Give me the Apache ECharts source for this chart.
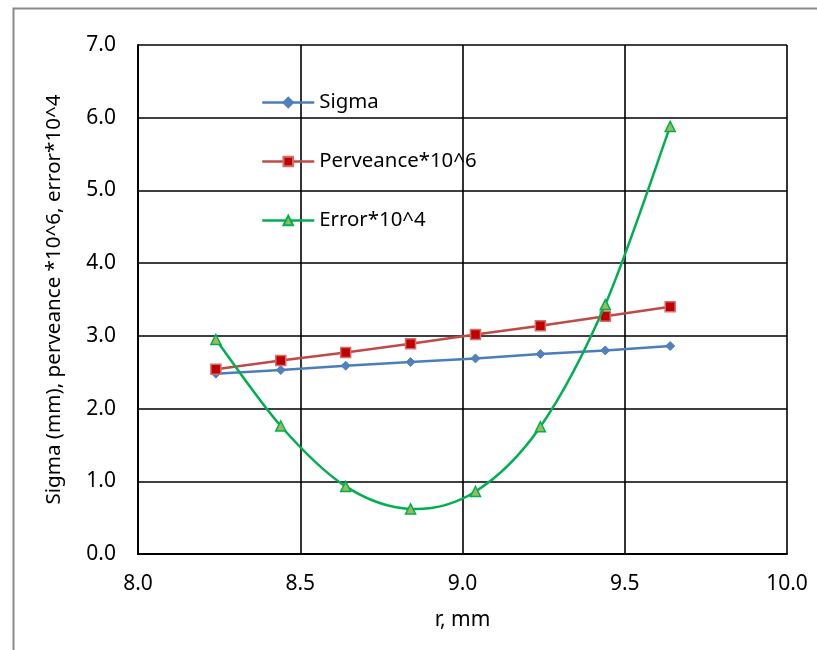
<!DOCTYPE html>
<html>
<head>
<meta charset="utf-8">
<script src="https://cdn.jsdelivr.net/npm/echarts@6/dist/echarts.min.js"></script>
<style>
  html, body { margin: 0; padding: 0; background: #fff; }
  #chart { width: 817px; height: 650px; }
</style>
</head>
<body>
<div id="chart"></div>
<script>
// Beam radius r (mm) against sigma, perveance and fitting error
const radius = [8.24, 8.44, 8.64, 8.84, 9.04, 9.24, 9.44, 9.64];
const sigma = [2.48, 2.53, 2.59, 2.64, 2.69, 2.75, 2.80, 2.86];
const perveance = [2.54, 2.66, 2.77, 2.89, 3.02, 3.14, 3.27, 3.40];
const error = [2.95, 1.76, 0.93, 0.62, 0.86, 1.75, 3.43, 5.88];

const seriesNames = ['Sigma', 'Perveance*10^6', 'Error*10^4'];
const xTitle = 'r, mm';
const yTitle = 'Sigma (mm), perveance *10^6, error*10^4';

const FONT = 'Noto Sans';
const BLUE = '#4A7EBB';
const RED = '#BE4B48';
const GREEN = '#00B050';

function pairs(ys) {
  return radius.map((x, i) => [x, ys[i]]);
}

// Smooth curve through the error points: Catmull-Rom segments as cubic Beziers,
// computed in pixel space from the axis coordinates.
function renderErrorCurve(params, api) {
  if (params.dataIndex !== 0) return null;
  const pts = radius.map((x, i) => api.coord([x, error[i]]));
  const n = pts.length;
  const P = i => pts[Math.max(0, Math.min(n - 1, i))];
  let d = 'M' + pts[0][0] + ' ' + pts[0][1];
  for (let i = 0; i < n - 1; i++) {
    const p0 = P(i - 1), p1 = P(i), p2 = P(i + 1), p3 = P(i + 2);
    const c1x = p1[0] + (p2[0] - p0[0]) / 6;
    const c1y = p1[1] + (p2[1] - p0[1]) / 6;
    const c2x = p2[0] - (p3[0] - p1[0]) / 6;
    const c2y = p2[1] - (p3[1] - p1[1]) / 6;
    d += ' C' + c1x + ' ' + c1y + ' ' + c2x + ' ' + c2y + ' ' + p2[0] + ' ' + p2[1];
  }
  return {
    type: 'path',
    shape: { pathData: d },
    style: { fill: 'none', stroke: GREEN, lineWidth: 2.5, lineJoin: 'round' }
  };
}

const chart = echarts.init(document.getElementById('chart'), null, { renderer: 'canvas' });

chart.setOption({
  backgroundColor: '#ffffff',
  animation: false,
  graphic: [{
    type: 'rect',
    left: 11, top: 6,
    shape: { width: 1000, height: 1000 },
    style: { fill: 'none', stroke: '#8a8a8a', lineWidth: 2 },
    silent: true
  }],
  grid: { left: 138, top: 45, right: 30, bottom: 96 },
  legend: {
    orient: 'vertical',
    left: 256,
    top: 87,
    itemWidth: 52,
    itemHeight: 12,
    itemGap: 38,
    textStyle: { fontFamily: FONT, fontSize: 20.4, color: '#000', lineHeight: 21 },
    data: [
      { name: seriesNames[0], lineStyle: { color: BLUE, width: 2.5 } },
      { name: seriesNames[1], lineStyle: { color: RED, width: 2.5 } },
      { name: seriesNames[2], lineStyle: { color: GREEN, width: 2.5, opacity: 1 } }
    ]
  },
  xAxis: {
    type: 'value',
    min: 8, max: 10, interval: 0.5,
    name: xTitle,
    nameLocation: 'middle',
    nameGap: 56,
    nameTextStyle: { fontFamily: FONT, fontSize: 21, color: '#000' },
    axisLine: { show: true, lineStyle: { color: '#000', width: 2 } },
    axisTick: { show: false },
    axisLabel: { margin: 20, fontFamily: FONT, fontSize: 21, color: '#000',
      formatter: v => v.toFixed(1) },
    splitLine: { show: true, lineStyle: { color: '#000', width: 1.6 } }
  },
  yAxis: {
    type: 'value',
    min: 0, max: 7, interval: 1,
    name: yTitle,
    nameLocation: 'middle',
    nameGap: 73,
    nameTextStyle: { fontFamily: FONT, fontSize: 20.6, color: '#000' },
    axisLine: { show: true, lineStyle: { color: '#000', width: 2 } },
    axisTick: { show: false },
    axisLabel: { margin: 22, fontFamily: FONT, fontSize: 21, color: '#000',
      formatter: v => v.toFixed(1) },
    splitLine: { show: true, lineStyle: { color: '#000', width: 1.6 } }
  },
  series: [
    {
      name: seriesNames[0],
      type: 'line',
      data: pairs(sigma),
      symbol: 'diamond',
      symbolSize: 9,
      lineStyle: { color: BLUE, width: 2.5 },
      itemStyle: { color: '#4F81BD', borderColor: '#4F81BD', borderWidth: 1 },
      z: 2
    },
    {
      name: seriesNames[1],
      type: 'line',
      data: pairs(perveance),
      symbol: 'rect',
      symbolSize: 10,
      lineStyle: { color: RED, width: 2.5 },
      itemStyle: { color: '#C00000', borderColor: '#D26F6C', borderWidth: 1.5 },
      z: 3
    },
    {
      name: 'Error curve',
      type: 'custom',
      data: pairs(error),
      renderItem: renderErrorCurve,
      silent: true,
      z: 4
    },
    {
      name: seriesNames[2],
      type: 'line',
      data: pairs(error),
      symbol: 'triangle',
      symbolSize: 10,
      lineStyle: { color: GREEN, width: 2.5, opacity: 0 },
      itemStyle: { color: '#9BBB59', borderColor: GREEN, borderWidth: 1.5 },
      z: 5
    }
  ]
});
</script>
</body>
</html>
